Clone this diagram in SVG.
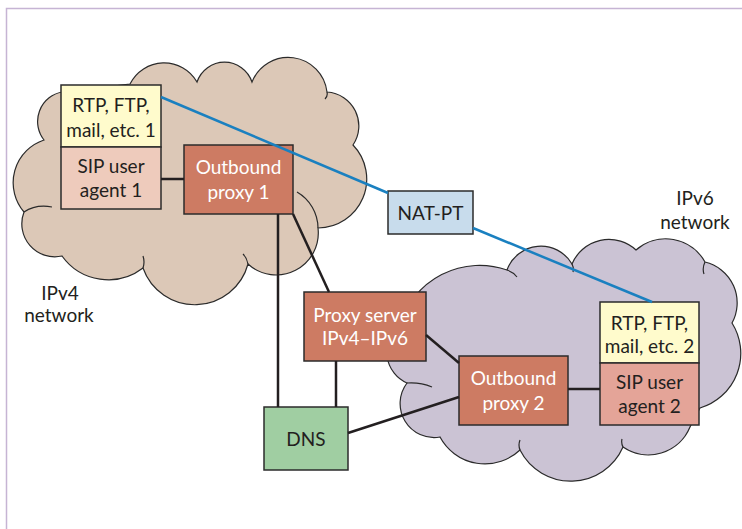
<svg xmlns="http://www.w3.org/2000/svg" width="742" height="529" viewBox="0 0 742 529">
<defs>
<style>
.frame{stroke:#c6b4d4;stroke-width:1.5;fill:none}
.cloud{stroke:#2a2a2a;stroke-width:1.2}
.tail{stroke:#2a2a2a;stroke-width:1.2;fill:none}
.box{stroke:#2b2b2b;stroke-width:1.5}
.t{font-family:Lato,"Open Sans","Liberation Sans",sans-serif;font-size:19px;text-anchor:middle;fill:#231f20}
.w{fill:#ffffff}
.link{stroke:#231f20;stroke-width:2.5;fill:none}
.blue{stroke:#1a80c0;stroke-width:2.5;fill:none}
</style>
</defs>
<rect width="742" height="529" fill="#ffffff"/>
<path class="frame" d="M6.5 529 V8.5 H742"/>

<g id="ipv4-network">
<path class="cloud" fill="#dcc8b7" d="M24 212 A45 45 0 0 1 44 140 A30 30 0 0 1 62 92 L130 84 A38 38 0 0 1 197 82 A29 29 0 0 1 252 82 A39 39 0 0 1 327 92 A34 34 0 0 1 353 145 A49 49 0 0 1 318 228 A42 42 0 0 1 248 264 A55 55 0 0 1 143 268 A57 57 0 0 1 62 256 A33 33 0 0 1 24 212 Z"/>
<path class="tail" d="M24 212 Q36 204 52 207 M297 192 A42 42 0 0 1 318 228 M327 92 Q328 96 325 99 M248 264 Q247 258 243 254 M143 268 Q145 262 143 256"/>
<text class="t" x="60" y="300">IPv4</text>
<text class="t" x="59" y="322">network</text>
</g>

<g id="ipv6-network">
<path class="cloud" fill="#cbc3d4" d="M440 437 A34 34 0 0 1 407 383 A34 34 0 0 1 400 325 A83 83 0 0 1 507 270 A36 36 0 0 1 572 264 A40 40 0 0 1 636 250 A45 45 0 0 1 705 262 A42 42 0 0 1 732 323 A57 57 0 0 1 700 408 L690 427 A45 45 0 0 1 623 447 A57 57 0 0 1 520 450 A51 51 0 0 1 440 437 Z"/>
<path class="tail" d="M507 270 Q513 272 517 277 M407 383 Q420 382 432 387 M520 450 Q518 445 520 440 M623 447 Q621 443 622 439 M705 262 Q702 268 704 274 M572 264 Q574 268 573 272"/>
<text class="t" x="695" y="205">IPv6</text>
<text class="t" x="695" y="229">network</text>
</g>

<g id="rtp1">
<rect class="box" x="61" y="85" width="100" height="62" fill="#fffbcc"/>
<text class="t" x="111" y="112">RTP, FTP,</text>
<text class="t" x="111" y="137">mail, etc. 1</text>
</g>
<g id="ua1">
<rect class="box" x="61" y="147" width="100" height="62" fill="#eecbbc"/>
<text class="t" x="111" y="173">SIP user</text>
<text class="t" x="111" y="197">agent 1</text>
</g>
<g id="op1">
<rect class="box" x="184" y="145" width="109" height="69" fill="#cd7b63"/>
<text class="t w" x="238.5" y="174">Outbound</text>
<text class="t w" x="238.5" y="199">proxy 1</text>
</g>
<g id="natpt">
<rect class="box" x="388" y="191" width="85" height="43" fill="#c8dcec"/>
<text class="t" x="430.5" y="220">NAT-PT</text>
</g>
<g id="proxy">
<rect class="box" x="304" y="292" width="122" height="69" fill="#cd7b63"/>
<text class="t w" x="365" y="322">Proxy server</text>
<text class="t w" x="365" y="345">IPv4–IPv6</text>
</g>
<g id="dns">
<rect class="box" x="264" y="407" width="84" height="63" fill="#a0cea2"/>
<text class="t" x="306" y="446">DNS</text>
</g>
<g id="op2">
<rect class="box" x="459" y="356" width="109" height="69" fill="#cd7b63"/>
<text class="t w" x="513.5" y="385">Outbound</text>
<text class="t w" x="513.5" y="410">proxy 2</text>
</g>
<g id="rtp2">
<rect class="box" x="600" y="302" width="99" height="61" fill="#fffbcc"/>
<text class="t" x="649.5" y="330">RTP, FTP,</text>
<text class="t" x="649.5" y="353">mail, etc. 2</text>
</g>
<g id="ua2">
<rect class="box" x="600" y="363" width="99" height="62" fill="#e4a498"/>
<text class="t" x="649.5" y="389">SIP user</text>
<text class="t" x="649.5" y="413">agent 2</text>
</g>

<g id="connectors">
<line class="link" x1="161" y1="179" x2="184" y2="179"/>
<line class="link" x1="278" y1="214" x2="278" y2="407"/>
<line class="link" x1="293" y1="214" x2="329" y2="292"/>
<line class="link" x1="336" y1="361" x2="336" y2="407"/>
<line class="link" x1="426" y1="335" x2="459" y2="363"/>
<line class="link" x1="348" y1="433" x2="459" y2="397"/>
<line class="link" x1="568" y1="389" x2="600" y2="389"/>
<line class="blue" x1="161" y1="97" x2="388" y2="193"/>
<line class="blue" x1="473" y1="228" x2="652" y2="302"/>
</g>
</svg>
